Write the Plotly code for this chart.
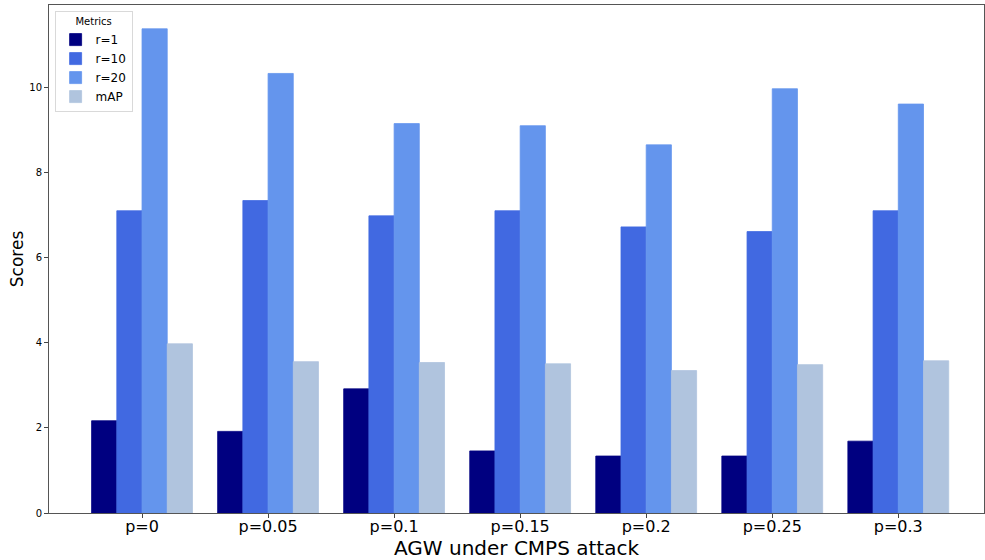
import plotly.graph_objects as go

categories = ["p=0", "p=0.05", "p=0.1", "p=0.15", "p=0.2", "p=0.25", "p=0.3"]
r1 = [2.17, 1.92, 2.92, 1.46, 1.34, 1.34, 1.69]
r10 = [7.11, 7.35, 6.99, 7.11, 6.73, 6.62, 7.11]
r20 = [11.39, 10.34, 9.16, 9.11, 8.66, 9.98, 9.62]
mAP = [3.98, 3.56, 3.54, 3.51, 3.35, 3.49, 3.58]

series = [("r=1", r1, "#000080"), ("r=10", r10, "#4169E1"),
          ("r=20", r20, "#6495ED"), ("mAP", mAP, "#B0C4DE")]

fig = go.Figure()
for name, vals, col in series:
    fig.add_trace(go.Bar(x=list(range(len(categories))), y=vals, name=name,
                         marker=dict(color=col, line=dict(width=0.8, color=col))))

fig.update_layout(
    width=985, height=560,
    margin=dict(l=49, r=1, t=5, b=47),
    barmode="group", bargap=0.2, bargroupgap=0,
    plot_bgcolor="white", paper_bgcolor="white",
    font=dict(family="DejaVu Sans", color="black"),
    legend=dict(x=0.006, y=0.988, xanchor="left", yanchor="top",
                title=dict(text="Metrics", side="top center", font=dict(size=10)),
                font=dict(size=12), bgcolor="rgba(255,255,255,0.8)",
                bordercolor="#d9d9d9", borderwidth=1, tracegroupgap=2),
    xaxis=dict(range=[-0.738, 6.68], tickmode="array",
               tickvals=list(range(len(categories))), ticktext=categories,
               tickfont=dict(size=16), ticks="outside", ticklen=4,
               ticklabelstandoff=-5,
               tickcolor="#444", showgrid=False, zeroline=False,
               showline=True, linecolor="#555", linewidth=1, mirror=True,
               title=dict(text="AGW under CMPS attack", font=dict(size=20), standoff=5)),
    yaxis=dict(range=[0, 11.95], tickvals=[0, 2, 4, 6, 8, 10],
               tickfont=dict(size=10), ticks="outside", ticklen=4,
               tickcolor="#444", showgrid=False, zeroline=False,
               showline=True, linecolor="#555", linewidth=1, mirror=True,
               title=dict(text="Scores", font=dict(size=17), standoff=1)),
)

fig.write_html("out.html", config={"displayModeBar": False},
               post_script="document.body.style.margin='0';document.body.style.overflow='hidden';")
